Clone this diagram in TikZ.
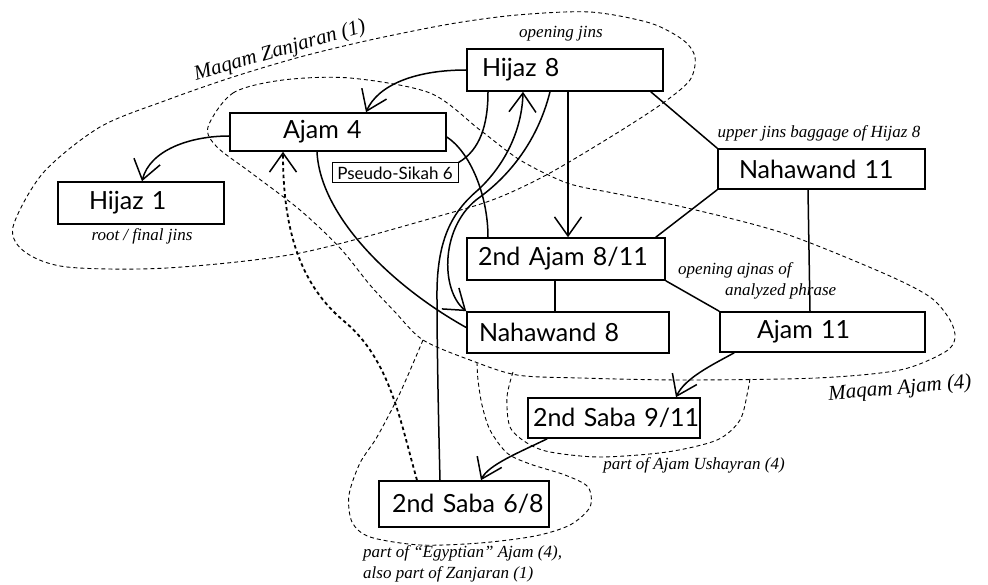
\documentclass[tikz,border=0pt]{standalone}
\usepackage{fontspec}
\setmainfont{Liberation Serif}
\newfontfamily\boxfont{Lato}
\usetikzlibrary{arrows.meta}
\begin{document}
\begin{tikzpicture}[x=1pt,y=-1pt,
  jbox/.style={draw, line width=1.6pt, inner sep=0pt, align=left, font=\boxfont\fontsize{25}{28}\selectfont},
  smallbox/.style={draw, line width=1pt, inner sep=0pt, align=center, font=\boxfont\fontsize{17}{19}\selectfont},
  conn/.style={line width=1.5pt},
  tip/.style={-{Straight Barb[length=19pt,width=27pt,line width=1.5pt]}},
  grp/.style={line width=0.9pt, dash pattern=on 4pt off 3pt},
  thickdash/.style={line width=1.8pt, dash pattern=on 3.5pt off 3pt},
  note/.style={font=\itshape\fontsize{17}{21}\selectfont, inner sep=0pt},
  bignote/.style={font=\itshape\fontsize{21}{25}\selectfont, inner sep=0pt}]
\useasboundingbox (0,0) rectangle (988,585);

% grouping outlines
\draw[grp] plot[smooth cycle] coordinates {(13,227) (43,173) (100,127) (167,100) (233,77) (300,57) (370,40) (450,24) (517,15) (590,12) (650,23) (683,40) (695,57) (690,80) (663,103) (617,133) (550,173) (500,197) (450,213) (300,253) (167,268) (67,267) (25,252)};
\draw[grp] plot[smooth cycle] coordinates {(208,127) (233,93) (283,80) (350,78) (430,93) (480,130) (520,160) (567,183) (613,193) (683,207) (783,233) (883,273) (930,297) (950,320) (955,338) (945,352) (900,370) (817,378) (683,380) (580,378) (517,375) (470,360) (423,340) (395,312) (370,285) (340,248) (300,210) (250,172) (217,147)};
\draw[grp] plot[smooth] coordinates {(423,340) (400,393) (377,437) (360,463) (349,495) (352,522) (370,537) (420,545) (480,543) (535,536) (570,525) (590,507) (588,487) (565,475) (530,464) (507,453) (490,430) (482,405) (478,380) (477,363)};
\draw[grp] plot[smooth] coordinates {(513,372) (507,397) (510,427) (527,443) (550,452) (600,457) (667,452) (717,440) (740,420) (748,390) (750,378)};

% boxes
\node[jbox, minimum height=42pt, text width=196pt] (h8) at (565,70) {\hspace*{15pt}Hijaz 8};
\node[jbox, minimum height=38pt, text width=216pt] (a4) at (338,132) {\hspace*{53pt}Ajam 4};
\node[jbox, minimum height=42pt, text width=166pt] (h1) at (141,203) {\hspace*{31pt}Hijaz 1};
\node[smallbox, minimum height=20pt, minimum width=126pt] (ps6) at (395,173) {Pseudo-Sikah 6};
\node[jbox, minimum height=40pt, text width=207pt] (n11) at (821.5,169) {\hspace*{21pt}Nahawand 11};
\node[jbox, minimum height=42pt, text width=198pt] (a811) at (566,259) {\hspace*{11pt}2nd Ajam 8/11};
\node[jbox, minimum height=41pt, text width=202pt] (n8) at (568,332.5) {\hspace*{12pt}Nahawand 8};
\node[jbox, minimum height=40pt, text width=205pt] (a11) at (822.5,332) {\hspace*{37pt}Ajam 11};
\node[jbox, minimum height=40pt, text width=172pt] (s911) at (614,418) {\hspace*{5pt}2nd Saba 9/11};
\node[jbox, minimum height=46pt, text width=170pt] (s68) at (464,504) {\hspace*{13pt}2nd Saba 6/8};

% connectors
\draw[conn,tip] (h8.west) .. controls (415,70) and (378,85) .. ([xshift=28pt]a4.north);
\draw[conn,tip] ([yshift=-4pt]a4.west) .. controls (190,136) and (150,150) .. ([xshift=1pt]h1.north);
\draw[conn] ([xshift=-77pt]h8.south) .. controls (488,125) and (480,150) .. (ps6.north east);
\draw[conn] ([yshift=-5pt]a4.east) .. controls (470,152) and (488,195) .. ([xshift=-78pt]a811.north);
\draw[conn,tip] ([xshift=-24pt]s68.north) .. controls (438,400) and (437,340) .. (437,300) .. controls (436,240) and (452,212) .. (478,190) .. controls (505,165) and (522,130) .. ([xshift=-42pt]h8.south);
\draw[conn,tip] ([xshift=-15pt]h8.south) .. controls (538,140) and (510,175) .. (480,197) .. controls (440,225) and (440,290) .. (n8.north west);
\draw[conn] ([xshift=-21pt]a4.south) .. controls (320,215) and (390,285) .. ([yshift=5pt]n8.west);
\draw[conn,tip] ([xshift=3pt]h8.south) -- ([xshift=2pt]a811.north);
\draw[conn] ([xshift=-13pt]h8.south east) -- (n11.north west);
\draw[conn] (n11.south west) -- ([xshift=-10pt]a811.north east);
\draw[conn] ([xshift=-13.5pt]n11.south) -- ([xshift=-12.5pt]a11.north);
\draw[conn] ([xshift=-11pt]a811.south) -- ([xshift=-13pt]n8.north);
\draw[conn] (a811.south east) -- (a11.north west);
\draw[conn,tip] ([xshift=15pt]a11.south west) .. controls (712,365) and (685,378) .. ([xshift=62pt]s911.north);
\draw[conn,tip] ([xshift=20pt]s911.south west) .. controls (520,452) and (488,465) .. ([xshift=17pt]s68.north);
\draw[thickdash,tip] ([xshift=-47pt]s68.north) .. controls (400,420) and (390,360) .. (345,322) .. controls (300,285) and (283,230) .. ([xshift=-55pt]a4.south);

% labels
\node[note] (lopen) at (561,34) {opening jins};
\node[bignote, rotate=16] (lzan) at (280,51) {Maqam Zanjaran (1)};
\node[note] (lroot) at (142,236) {root / final jins};
\node[note] (lupper) at (819,133) {upper jins baggage of Hijaz 8};
\node[note, align=left, anchor=north west] (lajnas) at (678,262) {opening ajnas of\\\hspace*{47pt}analyzed phrase};
\node[bignote, rotate=5] (lajam) at (900,389) {Maqam Ajam (4)};
\node[note] (lush) at (694,465) {part of Ajam Ushayran (4)};
\node[note, align=left, anchor=north west] (legy) at (363,545) {part of ``Egyptian'' Ajam (4),\\also part of Zanjaran (1)};
\end{tikzpicture}
\end{document}
